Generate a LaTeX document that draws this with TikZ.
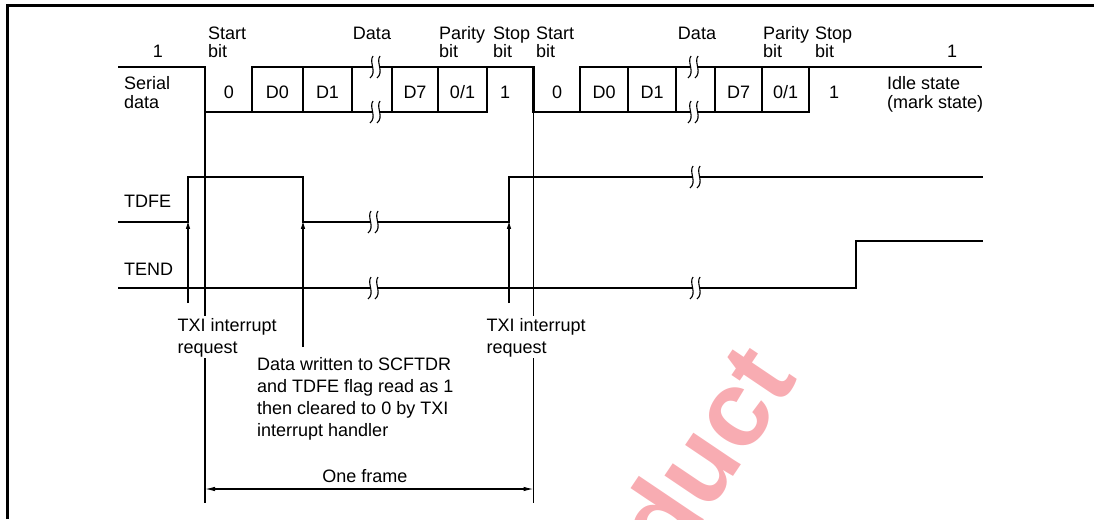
\documentclass[tikz,border=0pt]{standalone}
\usepackage{fontspec}
\setmainfont{Liberation Sans}
\usetikzlibrary{arrows.meta}
\definecolor{wmark}{RGB}{248,172,178}
\begin{document}
\begin{tikzpicture}[x=1pt,y=-1pt,
  sig/.style={line width=2.4pt, line join=miter},
  thinl/.style={line width=1.1pt},
  txt/.style={inner sep=0pt, font=\fontsize{18}{18.5}\selectfont, align=left},
  txtb/.style={inner sep=0pt, font=\fontsize{18}{22}\selectfont, align=left},
  ptr/.style={line width=1.1pt, -{Latex[length=8pt,width=4.5pt]}},
  dim/.style={line width=1.1pt, {Latex[length=10pt,width=4.5pt]}-{Latex[length=10pt,width=4.5pt]}},
  brk/.pic={
    \fill[white] (-3.5,-5) rectangle (3.5,5);
    \draw[line width=1.1pt] (-2,-11) .. controls (-6.5,-5) and (2.5,5) .. (-5,11);
    \draw[line width=1.1pt] (5,-11) .. controls (0.5,-5) and (9.5,5) .. (2,11);
  }]
\useasboundingbox (0,0) rectangle (1094,519);
% watermark
\node[inner sep=0pt, rotate=56, text=wmark, font=\fontsize{108}{108}\selectfont\bfseries] (wm) at (703,452) {duct};
% frame
\draw[line width=3pt] (7,519) -- (7,5.5) -- (1094,5.5);

% key coordinates
\coordinate (s0) at (118,67);
\coordinate (e1) at (205,67);   \coordinate (e2) at (252,67);
\coordinate (e3) at (303,67);   \coordinate (e4) at (352,67);
\coordinate (e5) at (392,67);   \coordinate (e6) at (438,67);
\coordinate (e7) at (487,67);   \coordinate (e8) at (533.5,67);
\coordinate (f2) at (580,67);   \coordinate (f3) at (628,67);
\coordinate (f4) at (676,67);   \coordinate (f5) at (715,67);
\coordinate (f6) at (762,67);   \coordinate (f7) at (809,67);
\coordinate (send) at (982,67);

% serial data
\draw[sig] (s0) -- (e1) -- (e1 |- 0,112) -- (e7 |- 0,112) -- (e7);
\draw[sig] (e2 |- 0,112) -- (e2) -- (e8) -- (e8 |- 0,112) -- (f7 |- 0,112) -- (f7);
\draw[sig] (f2 |- 0,112) -- (f2) -- (send);
\foreach \c in {e3,e4,e5,e6,f3,f4,f5,f6}
  \draw[sig] (\c) -- (\c |- 0,112);
\pic at (375,67) {brk};  \pic at (375,112) {brk};
\pic at (693,67) {brk};  \pic at (693,112) {brk};

% TDFE
\coordinate (t1) at (188,222); \coordinate (t2) at (303,222); \coordinate (t3) at (509,222);
\draw[sig] (118,222) -- (t1) -- (188,177) -- (303,177) -- (t2) -- (t3) -- (509,177) -- (983,177);
\pic at (373,222) {brk};  \pic at (695,177) {brk};

% TEND
\draw[sig] (118,288) -- (856,288) -- (856,241) -- (983,241);
\pic at (373,288) {brk};  \pic at (695,288) {brk};

% frame markers
\coordinate (m1) at (205,503); \coordinate (m2) at (533.5,503);
\draw[thinl] (e1 |- 0,112) -- (m1);
\draw[thinl] (e8 |- 0,112) -- (m2);

% labels top
\node[txt, anchor=base] (one1) at (158,58) {1};
\node[txt, anchor=base west] (sb1) at (208,58) {Start\\bit};
\node[txt, anchor=base] (da1) at (372,40) {Data};
\node[txt, anchor=base west] (pb1) at (439,58) {Parity\\bit};
\node[txt, anchor=base west] (st1) at (493,58) {Stop\\bit};
\node[txt, anchor=base west] (sb2) at (536,58) {Start\\bit};
\node[txt, anchor=base] (da2) at (697,40) {Data};
\node[txt, anchor=base west] (pb2) at (763,58) {Parity\\bit};
\node[txt, anchor=base west] (st2) at (815,58) {Stop\\bit};
\node[txt, anchor=base] (one2) at (952,58) {1};
\node[txt, anchor=base west] (sd) at (124,108) {Serial\\data};
\node[txt, anchor=base west] (idle) at (887,108) {Idle state\\(mark state)};

% bit cells
\foreach \x/\t/\n in {229/0/c1,277.5/D0/c2,327.5/D1/c3,415/D7/c4,462.5/0\slash 1/c5,505/1/c6,
                     557/0/c7,604/D0/c8,652/D1/c9,738.5/D7/c10,785.5/0\slash 1/c11,834/1/c12}
  \node[txt, anchor=base] (\n) at (\x,98) {\t};

\node[txt, anchor=base west] (tdfe) at (124,207) {TDFE};
\node[txt, anchor=base west] (tend) at (124,275) {TEND};

% lower annotations
\node[txtb, anchor=base west, fill=white, inner sep=1.5pt] (txi1) at (176,353) {TXI interrupt\\request};
\node[txtb, anchor=base west, fill=white, inner sep=1.5pt] (txi2) at (485,353) {TXI interrupt\\request};
\node[txtb, anchor=base west] (dw) at (257,436) {Data written to SCFTDR\\and TDFE flag read as 1\\then cleared to 0 by TXI\\interrupt handler};
\node[txtb, anchor=base] (of) at (365,482) {One frame};

\draw[ptr] (188,303) -- ([yshift=1.2pt]t1);
\draw[ptr] (303,347) -- ([yshift=1.2pt]t2);
\draw[ptr] (509,303) -- ([yshift=1.2pt]t3);
\draw[dim] (205,489) -- (533.5,489);
\end{tikzpicture}
\end{document}
